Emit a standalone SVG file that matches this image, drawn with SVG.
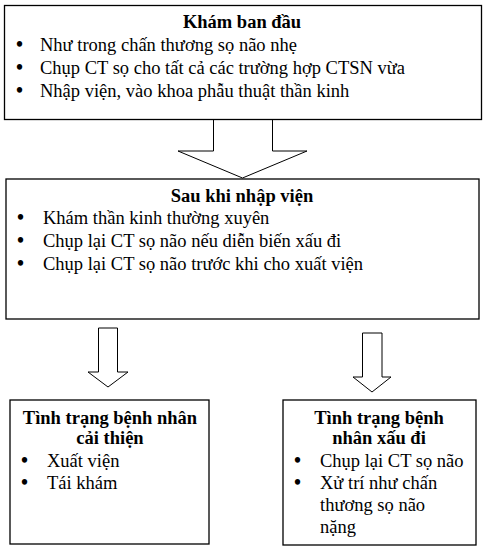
<svg xmlns="http://www.w3.org/2000/svg" width="484" height="550" viewBox="0 0 484 550">
<style>
.box{fill:#fff;stroke:#000;stroke-width:1.3}
.arr{fill:#fff;stroke:#000;stroke-width:1}
text{font-family:"Liberation Serif","Times New Roman",serif;font-size:18.5px;fill:#000}
.t{font-weight:bold;text-anchor:middle}
.b{font-size:20px;font-weight:bold}
</style>
<rect width="484" height="550" fill="#fff"/>
<g id="connectors">
<polygon class="arr" points="213.5,119 272.5,119 272.5,151 307,151 242.5,178 178,151 213.5,151"/>
<polygon class="arr" points="98.5,328 117.5,328 117.5,372 128,372 108,387 88,372 98.5,372"/>
<polygon class="arr" points="362.5,333 382,333 382,377 391,377 372,392 353,377 362.5,377"/>
</g>
<g id="n1">
<rect class="box" x="4.5" y="5.5" width="477" height="114"/>
<text class="t" x="242" y="28">Khám ban đầu</text>
<text x="16" y="51"><tspan class="b">•</tspan><tspan x="40">Như trong chấn thương sọ não nhẹ</tspan></text>
<text x="16" y="74"><tspan class="b">•</tspan><tspan x="40">Chụp CT sọ cho tất cả các trường hợp CTSN vừa</tspan></text>
<text x="16" y="97"><tspan class="b">•</tspan><tspan x="40">Nhập viện, vào khoa phẫu thuật thần kinh</tspan></text>
</g>
<g id="n2">
<rect class="box" x="6" y="179" width="473" height="140"/>
<text class="t" x="242" y="202">Sau khi nhập viện</text>
<text x="17" y="224"><tspan class="b">•</tspan><tspan x="43">Khám thần kinh thường xuyên</tspan></text>
<text x="17" y="247"><tspan class="b">•</tspan><tspan x="43">Chụp lại CT sọ não nếu diễn biến xấu đi</tspan></text>
<text x="17" y="270"><tspan class="b">•</tspan><tspan x="43">Chụp lại CT sọ não trước khi cho xuất viện</tspan></text>
</g>
<g id="n3">
<rect class="box" x="10" y="400" width="199" height="144"/>
<text class="t" x="110" y="424">Tình trạng bệnh nhân</text>
<text class="t" x="110" y="444">cải thiện</text>
<text x="21" y="467"><tspan class="b">•</tspan><tspan x="47">Xuất viện</tspan></text>
<text x="21" y="489"><tspan class="b">•</tspan><tspan x="47">Tái khám</tspan></text>
</g>
<g id="n4">
<rect class="box" x="283" y="400" width="193" height="145"/>
<text class="t" x="379" y="424">Tình trạng bệnh</text>
<text class="t" x="379" y="444">nhân xấu đi</text>
<text x="294" y="467"><tspan class="b">•</tspan><tspan x="320">Chụp lại CT sọ não</tspan></text>
<text x="294" y="489"><tspan class="b">•</tspan><tspan x="320">Xử trí như chấn</tspan></text>
<text x="320" y="511">thương sọ não</text>
<text x="320" y="533">nặng</text>
</g>
</svg>
